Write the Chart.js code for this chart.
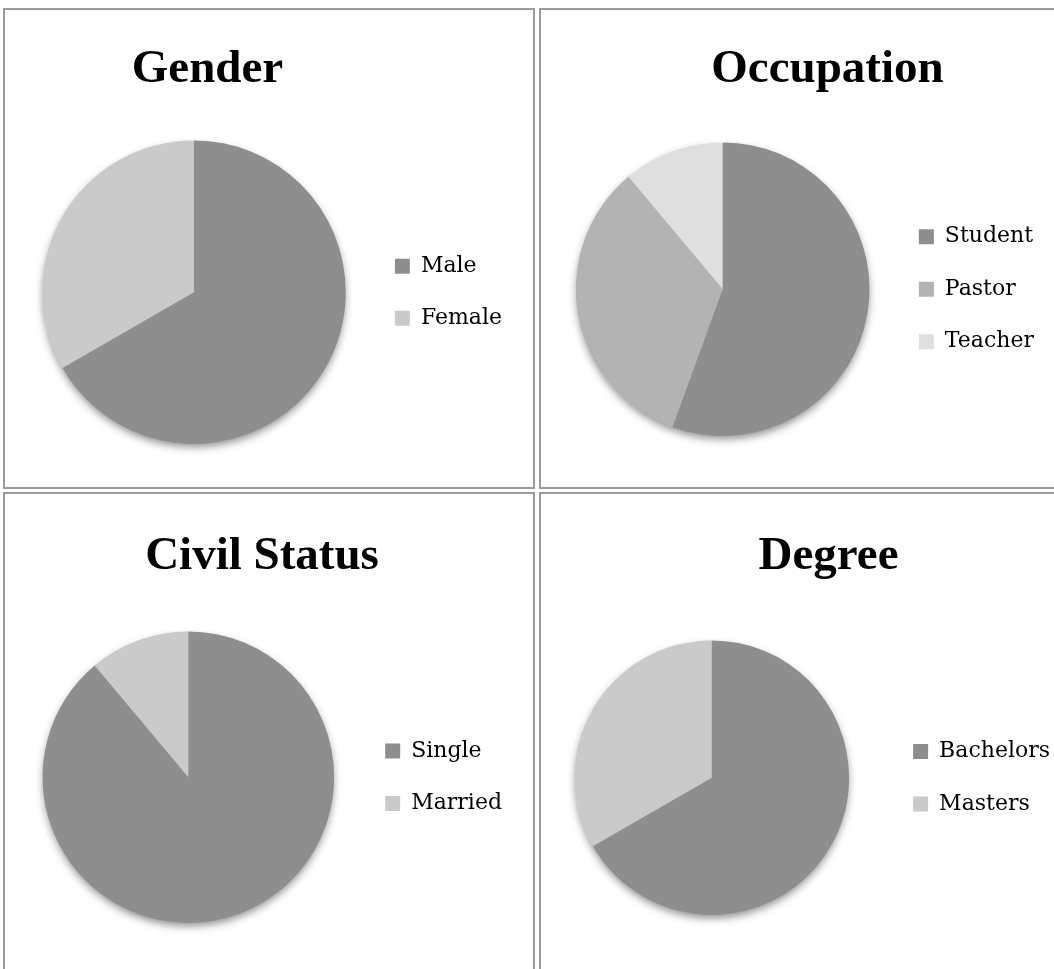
<!DOCTYPE html>
<html>
<head>
<meta charset="utf-8">
<script src="https://cdn.jsdelivr.net/npm/chart.js@4/dist/chart.umd.min.js"></script>
<style>
  body { margin: 0; background: #fff; overflow: hidden; width: 1054px; height: 969px; position: relative; }
  .panel { position: absolute; border: 2px solid #9a9a9a; background: #fff; overflow: hidden; }
  #p1 { left: 3px; top: 8px; width: 528px; height: 477px; }
  #p2 { left: 539px; top: 8px; width: 600px; height: 477px; }
  #p3 { left: 3px; top: 492px; width: 528px; height: 477px; }
  #p4 { left: 539px; top: 492px; width: 600px; height: 477px; }
  canvas { display: block; }
</style>
</head>
<body>
<div class="panel" id="p1"><canvas id="genderChart" width="528" height="477"></canvas></div>
<div class="panel" id="p2"><canvas id="occupationChart" width="540" height="477"></canvas></div>
<div class="panel" id="p3"><canvas id="civilChart" width="528" height="477"></canvas></div>
<div class="panel" id="p4"><canvas id="degreeChart" width="540" height="477"></canvas></div>
<script>
// 응답자 수 (총 9명)
var genderLabels = ['Male', 'Female'];
var genderValues = [6, 3];

var occupationLabels = ['Student', 'Pastor', 'Teacher'];
var occupationValues = [5, 3, 1];

var civilLabels = ['Single', 'Married'];
var civilValues = [8, 1];

var degreeLabels = ['Bachelors', 'Masters'];
var degreeValues = [6, 3];

var twoGrays = ['#8e8e8e', '#cacaca'];
var threeGrays = ['#8e8e8e', '#b3b3b3', '#dfdfdf'];

// 파이 아래 그림자
var pieShadow = {
    id: 'pieShadow',
    beforeDatasetsDraw: function(chart) {
        var arc = chart.getDatasetMeta(0).data[0];
        if (!arc) return;
        var ctx = chart.ctx;
        ctx.save();
        ctx.shadowColor = 'rgba(0,0,0,0.45)';
        ctx.shadowBlur = 9;
        ctx.shadowOffsetY = 4;
        ctx.fillStyle = '#8e8e8e';
        ctx.beginPath();
        ctx.arc(arc.x, arc.y, arc.outerRadius - 1, 0, Math.PI * 2);
        ctx.fill();
        ctx.restore();
    }
};

// 제목을 좌우로 옮기기
var titleShift = {
    id: 'titleShift',
    afterLayout: function(chart, args, opts) {
        var t = chart.titleBlock;
        if (!t || !opts.dx) return;
        t.left += opts.dx;
        t.right += opts.dx;
    }
};

function makePie(id, title, labels, values, colors, opt) {
    var ctx = document.getElementById(id).getContext('2d');
    return new Chart(ctx, {
        type: 'pie',
        data: {
            labels: labels,
            datasets: [{
                data: values,
                backgroundColor: colors,
                borderWidth: 0
            }]
        },
        plugins: [pieShadow, titleShift],
        options: {
            responsive: false,
            animation: false,
            layout: { padding: opt.layout },
            plugins: {
                tooltip: { enabled: false },
                titleShift: { dx: opt.titleDx },
                title: {
                    display: true,
                    text: title,
                    color: '#000',
                    font: { family: 'Liberation Serif', size: 47, weight: 'bold', lineHeight: 1.2 },
                    padding: opt.titlePad
                },
                legend: {
                    position: 'right',
                    fullSize: false,
                    labels: {
                        color: '#000',
                        font: { family: 'DejaVu Serif', size: 22 },
                        boxWidth: 15,
                        boxHeight: 15,
                        padding: opt.legendPad
                    }
                }
            }
        }
    });
}

makePie('genderChart', 'Gender', genderLabels, genderValues, twoGrays, {
    layout: { left: 18, right: 21, top: 0, bottom: 43 },
    titlePad: { top: 32, bottom: 42 },
    titleDx: -60,
    legendPad: 30
});

makePie('occupationChart', 'Occupation', occupationLabels, occupationValues, threeGrays, {
    layout: { left: 16, right: 37, top: 0, bottom: 51 },
    titlePad: { top: 32, bottom: 44 },
    titleDx: 27,
    legendPad: 30.5
});

makePie('civilChart', 'Civil Status', civilLabels, civilValues, twoGrays, {
    layout: { left: 17, right: 21, top: 0, bottom: 48 },
    titlePad: { top: 35, bottom: 46 },
    titleDx: -5,
    legendPad: 30.5
});

makePie('degreeChart', 'Degree', degreeLabels, degreeValues, twoGrays, {
    layout: { left: 0, right: 21, top: 0, bottom: 56 },
    titlePad: { top: 35, bottom: 55 },
    titleDx: 28,
    legendPad: 30.5
});
</script>
</body>
</html>
